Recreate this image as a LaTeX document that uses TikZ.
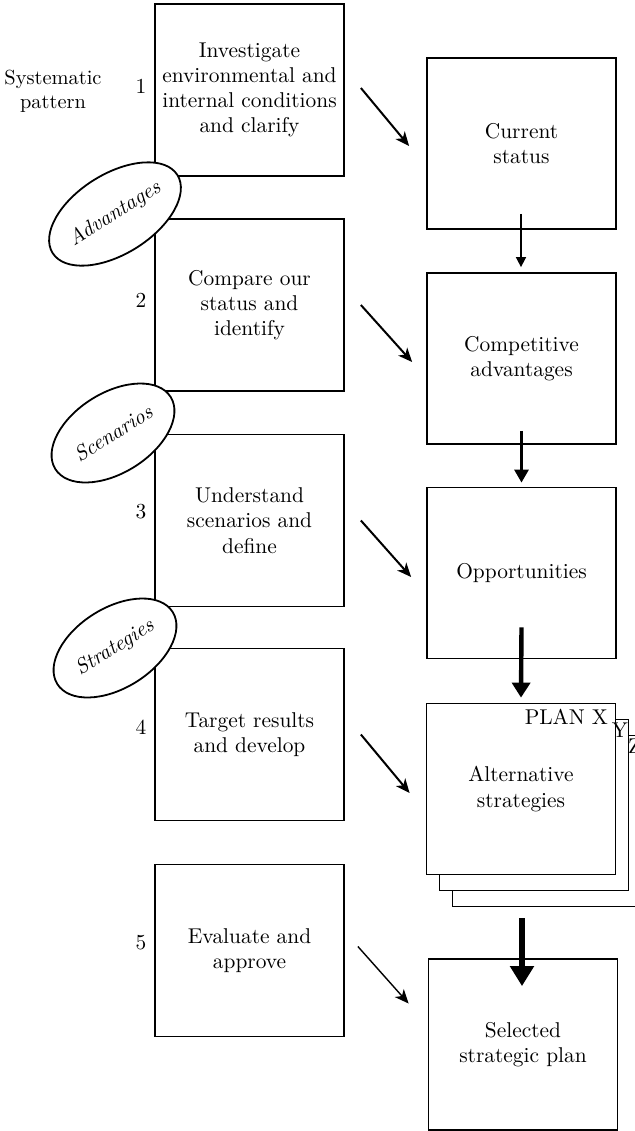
\documentclass[tikz,border=0pt]{standalone}
\usetikzlibrary{shapes.geometric,arrows.meta,calc}
\begin{document}
\begin{tikzpicture}[x=0.5pt,y=-0.5pt,
  every node/.style={font=\fontsize{10.7pt}{12.6pt}\selectfont},
  lbox/.style={draw, line width=0.9pt, minimum width=94.5pt, minimum height=86pt, align=center, inner sep=2pt, fill=white},
  rbox/.style={draw, line width=0.9pt, minimum width=94.5pt, minimum height=85.5pt, align=center, inner sep=2pt, fill=white},
  oval/.style={ellipse, draw, fill=white, line width=0.9pt, minimum width=68pt, minimum height=40pt, inner sep=0pt, rotate=32, font=\fontsize{10.6pt}{12.6pt}\selectfont\itshape},
  plain/.style={align=center, inner sep=0pt},
  side/.style={align=center, inner sep=0pt, font=\fontsize{10.2pt}{12.2pt}\selectfont},
  diag/.style={-{Stealth[length=7pt,width=6pt,inset=2pt]}, line width=1pt},
  diagthin/.style={-{Stealth[length=7pt,width=6pt,inset=2pt]}, line width=0.7pt},
  vaA/.style={-{Triangle[length=5pt,width=5pt]}, line width=0.8pt},
  vaB/.style={-{Triangle[length=6.5pt,width=7pt]}, line width=1.5pt},
  vaC/.style={-{Triangle[length=7.5pt,width=9pt]}, line width=2.2pt},
  vaD/.style={-{Triangle[length=10pt,width=11.5pt]}, line width=3pt}
]
\useasboundingbox (0,0) rectangle (634,1131);

% left boxes
\node[lbox] (b1) at (249.5,90) {Investigate\\environmental and\\internal conditions\\and clarify};
\node[lbox] (b2) at (249.5,305) {Compare our\\status and\\identify};
\node[lbox] (b3) at (249.5,520.5) {Understand\\scenarios and\\define};
\node[lbox] (b4) at (249.5,734.5) {Target results\\and develop};
\node[lbox] (b5) at (249.5,950.5) {Evaluate and\\approve};

% numbers and side label
\node[side] (sys) at (53,91) {Systematic\\pattern};
\node[plain] (n1) at (141,86) {1};
\node[plain] (n2) at (141,300) {2};
\node[plain] (n3) at (141,512) {3};
\node[plain] (n4) at (141,727) {4};
\node[plain] (n5) at (141,943) {5};

% right boxes
\node[rbox] (cs) at (521.5,143.5) {Current\\status};
\node[rbox] (ca) at (521.5,358.5) {Competitive\\advantages};
\node[rbox] (op) at (521.5,573) {Opportunities};
\node[rbox] (s3) at (547,821) {};
\node[rbox] (s2) at (534,805) {};
\node[rbox] (alt) at (521,789) {Alternative\\strategies};
\node[rbox] (sel) at (523,1044.5) {Selected\\strategic plan};

\node[plain, anchor=north east] (px) at ($(alt.north east)+(-8,6)$) {PLAN X};
\node[plain, anchor=north east] (py) at ($(s2.north east)+(-1,4)$) {Y};
\node[plain, anchor=north west] (pz) at ($(s3.north west)+(176,4)$) {Z};

% ellipses
\node[oval] (adv) at (115,214) {Advantages};
\node[oval] (scn) at (113,433) {Scenarios};
\node[oval] (str) at (115,648) {Strategies};

% diagonal arrows
\draw[diag] ($(b1.east)+(16,-2)$) -- ($(cs.west)+(-17,2.5)$);
\draw[diag] ($(b2.east)+(16,0)$) -- ($(ca.west)+(-14,3.5)$);
\draw[diag] ($(b3.east)+(16,0)$) -- ($(op.west)+(-15,4)$);
\draw[diag] ($(b4.east)+(16,0)$) -- ($(alt.west)+(-16,4)$);
\draw[diagthin] ($(b5.east)+(13,-4)$) -- ($(sel.west)+(-19,-41)$);

% vertical arrows
\draw[vaA] ($(cs.south)+(-0.5,-16)$) -- ($(ca.north)+(-0.5,-5)$);
\draw[vaB] ($(ca.south)+(0,-14)$) -- ($(op.north)+(0,-4)$);
\draw[vaC] ($(op.south)+(0,-32)$) -- ($(alt.north)+(0,-5)$);
\draw[vaD] ($(s3.south)+(-25,11)$) -- ($(sel.north)+(-1,28)$);
\end{tikzpicture}
\end{document}
